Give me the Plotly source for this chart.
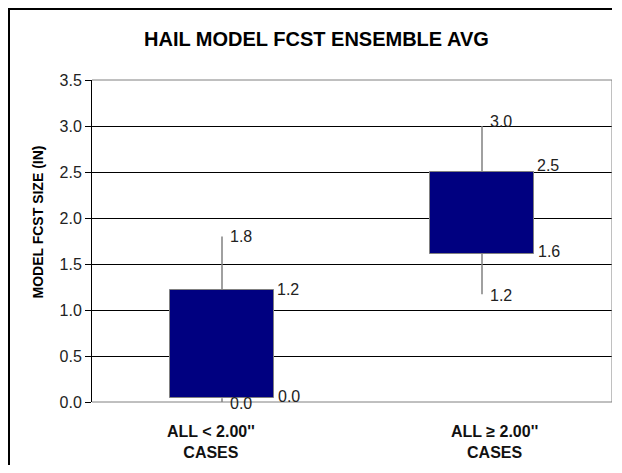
import plotly.graph_objects as go

# ---- data ----
categories = ["ALL < 2.00''<br>CASES", "ALL ≥ 2.00''<br>CASES"]
high_vals = [1.80, 3.00]
open_vals = [1.22, 2.50]
close_vals = [0.04, 1.61]
low_vals = [0.00, 1.17]
tick_vals = [0.0, 0.5, 1.0, 1.5, 2.0, 2.5, 3.0, 3.5]

# ---- style ----
BOX_W = 0.4
NAVY = "#000080"
GRAY = "#808080"
FONT = "Liberation Sans, Arial, sans-serif"
# page body has an 8px margin -> figure origin sits at (8, 8) of the window
W, H = 604, 457
ML, MR, MT, MB = 84, 0, 72, 63
PW, PH = W - ML - MR, H - MT - MB

xs = list(range(len(categories)))
fig = go.Figure()

# whiskers (outside box)
for i in xs:
    top = max(open_vals[i], close_vals[i])
    bot = min(open_vals[i], close_vals[i])
    fig.add_trace(go.Scatter(
        x=[i, i, None, i, i], y=[high_vals[i], top, None, bot, low_vals[i]],
        mode="lines", line=dict(color=GRAY, width=1.5), hoverinfo="skip", showlegend=False))

# boxes
fig.add_trace(go.Bar(
    x=xs,
    base=[min(o, c) for o, c in zip(open_vals, close_vals)],
    y=[abs(o - c) for o, c in zip(open_vals, close_vals)],
    width=BOX_W, marker=dict(color=NAVY, line=dict(color=GRAY, width=1)),
    showlegend=False))

lab_font = dict(family=FONT, size=16, color="#222")
ann = []
# data labels
for i in xs:
    ann.append(dict(x=i, y=high_vals[i], text=f"{high_vals[i]:.1f}", xanchor="left", yanchor="middle",
                    xshift=6, yshift=(5 if i == 1 else 0), showarrow=False, font=lab_font))
    ann.append(dict(x=i, y=low_vals[i], text=f"{low_vals[i]:.1f}", xanchor="left", yanchor="middle",
                    xshift=6, yshift=-1, showarrow=False, font=lab_font))
    ann.append(dict(x=i + BOX_W / 2, y=open_vals[i], text=f"{open_vals[i]:.1f}", xanchor="left", yanchor="middle",
                    xshift=1, yshift=(7 if i == 1 else 0), showarrow=False, font=lab_font))
    ann.append(dict(x=i + BOX_W / 2, y=close_vals[i], text=f"{close_vals[i]:.1f}", xanchor="left", yanchor="middle",
                    xshift=2, yshift=2, showarrow=False, font=lab_font))

# category labels
for i, c in enumerate(categories):
    ann.append(dict(x=i, y=-40 / PH, yref="paper", text=c, showarrow=False, xanchor="center", yanchor="middle",
                    xshift=(-11 if i == 0 else 12),
                    font=dict(family=FONT, size=16, color="#111", weight="bold")))

# title
ann.append(dict(x=(308 - ML) / PW, y=1 + (72 - 31) / PH, xref="paper", yref="paper",
                text="<b>HAIL MODEL FCST ENSEMBLE AVG</b>",
                showarrow=False, xanchor="center", yanchor="middle",
                font=dict(family=FONT, size=20, color="#000")))
# y-axis title
ann.append(dict(x=(29 - ML) / PW, y=(MT + PH - 214.5) / PH, xref="paper", yref="paper",
                text="<b>MODEL FCST SIZE (IN)</b>",
                textangle=-90, showarrow=False, xanchor="center", yanchor="middle",
                font=dict(family=FONT, size=14, color="#000")))

shapes = [
    # plot area border (top, right, bottom) gray
    dict(type="line", xref="paper", yref="paper", x0=0, x1=1, y0=1, y1=1, line=dict(color=GRAY, width=1), layer="above"),
    dict(type="line", xref="paper", yref="paper", x0=1, x1=1, y0=0, y1=1, line=dict(color=GRAY, width=1), layer="above"),
    dict(type="line", xref="paper", yref="paper", x0=0, x1=1, y0=0, y1=0, line=dict(color=GRAY, width=1), layer="below"),
    # outer chart frame (left and top edges)
    dict(type="line", xref="paper", yref="paper", x0=(1 - ML) / PW, x1=(1 - ML) / PW,
         y0=-1, y1=1 + (MT - 1) / PH, line=dict(color="#000", width=2), layer="above"),
    dict(type="line", xref="paper", yref="paper", x0=(0 - ML) / PW, x1=1.5,
         y0=1 + (MT - 1) / PH, y1=1 + (MT - 1) / PH, line=dict(color="#000", width=2), layer="above"),
]

fig.update_layout(
    width=W, height=H, margin=dict(l=ML, r=MR, t=MT, b=MB),
    paper_bgcolor="white", plot_bgcolor="white",
    annotations=ann, shapes=shapes, bargap=0,
    xaxis=dict(range=[-0.5, 1.5], showticklabels=False, showgrid=False, zeroline=False,
               showline=False, ticks="", fixedrange=True),
    yaxis=dict(range=[0, 3.5], tickvals=tick_vals, tickformat=".1f", showgrid=True, gridcolor="#000",
               gridwidth=1, zeroline=False, showline=True, linecolor="#000", linewidth=1,
               ticks="outside", ticklen=6, tickcolor="#000",
               tickfont=dict(family=FONT, size=16, color="#222")),
)

fig.write_html("out.html")
